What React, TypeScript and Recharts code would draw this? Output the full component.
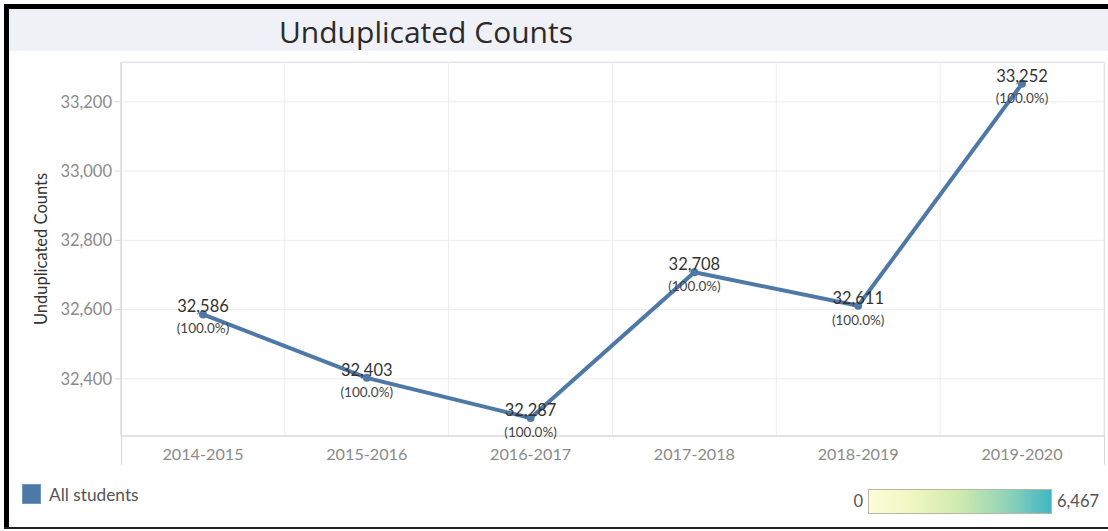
import React from 'react';
import { LineChart, Line, XAxis, YAxis, CartesianGrid, LabelList } from 'recharts';

const categories = ['2014-2015', '2015-2016', '2016-2017', '2017-2018', '2018-2019', '2019-2020'];
const counts = [32586, 32403, 32287, 32708, 32611, 33252];
const percents = ['(100.0%)', '(100.0%)', '(100.0%)', '(100.0%)', '(100.0%)', '(100.0%)'];
const yTicks = [32400, 32600, 32800, 33000, 33200];
const yDomain = [32235, 33315];
const bandEdges = [0, 1, 2, 3, 4, 5, 6];

const data = categories.map((c, i) => ({ year: c, value: counts[i], pct: percents[i] }));

const FONT = 'Lato, "Open Sans", sans-serif';
const LINE = '#4E79A7';

const fmt = (v: number) => v.toLocaleString('en-US');

const ValueLabel = (props: any) => {
  const { x, y, value, index } = props;
  return (
    <g>
      <text x={x} y={y - 2} textAnchor="middle" fontSize={16.5} fill="#333" fontFamily={FONT}>
        {fmt(value)}
      </text>
      <text x={x} y={y + 19} textAnchor="middle" fontSize={13.5} fill="#444" fontFamily={FONT}>
        {percents[index]}
      </text>
    </g>
  );
};

const EmptyTick = () => <g />;

export default function App() {
  return (
    <div style={{ position: 'absolute', left: 0, top: 0, width: 1108, height: 531, background: '#fff', overflow: 'hidden', fontFamily: FONT }}>
      {/* black frame */}
      <div style={{ position: 'absolute', left: 4, top: 4, width: 1104, height: 5, background: '#000' }} />
      <div style={{ position: 'absolute', left: 4, top: 4, width: 5, height: 525, background: '#000' }} />
      <div style={{ position: 'absolute', left: 4, top: 527, width: 1104, height: 2, background: '#222' }} />
      {/* title band */}
      <div style={{ position: 'absolute', left: 9, top: 9, width: 1099, height: 42, background: '#F0F1F6' }} />
      <div style={{ position: 'absolute', left: 0, top: 13, width: 852, textAlign: 'center', fontFamily: '"Open Sans", sans-serif', fontSize: 30, fontWeight: 500, color: '#2b2b2b', lineHeight: '38px' }}>
        Unduplicated Counts
      </div>
      {/* plot frame */}
      <div style={{ position: 'absolute', left: 121, top: 62, width: 984, height: 1, background: '#dcdcdc' }} />
      <div style={{ position: 'absolute', left: 121, top: 62, width: 1, height: 403, background: '#d6d6d6' }} />
      <div style={{ position: 'absolute', left: 1104, top: 62, width: 1, height: 403, background: '#d6d6d6' }} />

      <div style={{ position: 'absolute', left: 0, top: 0 }}>
        <LineChart width={1108} height={531} data={data} margin={{ top: 62, right: 4, bottom: 65, left: 0 }}>
          <CartesianGrid xAxisId="grid" stroke="#ececec" strokeWidth={1} />
          <XAxis
            xAxisId="grid"
            type="number"
            dataKey="gridX"
            domain={[0, 6]}
            ticks={bandEdges}
            height={0}
            axisLine={false}
            tick={EmptyTick}
            tickSize={8}
            tickLine={{ stroke: '#ececec' }}
            allowDataOverflow
          />
          <XAxis
            dataKey="year"
            padding={{ left: 82, right: 82 }}
            height={30}
            axisLine={{ stroke: '#cfcfcf' }}
            tickLine={false}
            tickMargin={6}
            tick={{ fill: '#8a8a8a', fontSize: 16.2, fontFamily: FONT }}
            interval={0}
          />
          <YAxis
            domain={yDomain}
            ticks={yTicks}
            type="number"
            width={121}
            axisLine={{ stroke: '#d6d6d6' }}
            tickLine={{ stroke: '#d6d6d6' }}
            tickSize={6}
            tickMargin={3}
            tickFormatter={fmt}
            tick={{ fill: '#8a8a8a', fontSize: 16.5, fontFamily: FONT }}
            allowDataOverflow
            label={{ value: 'Unduplicated Counts', angle: -90, position: 'center', dx: -19, fill: '#333', fontSize: 16.5, fontFamily: FONT }}
          />
          <Line
            dataKey="value"
            stroke={LINE}
            strokeWidth={4}
            dot={{ r: 4, fill: LINE, stroke: LINE, strokeWidth: 0 }}
            activeDot={false}
            isAnimationActive={false}
          >
            <LabelList dataKey="value" content={ValueLabel} />
          </Line>
        </LineChart>
      </div>

      {/* legend */}
      <div style={{ position: 'absolute', left: 22, top: 484, width: 19, height: 20, background: LINE, border: '1px solid #6f94bd', boxSizing: 'border-box' }} />
      <div style={{ position: 'absolute', left: 49, top: 484, fontSize: 17.3, color: '#555', lineHeight: '22px' }}>All students</div>

      {/* color legend */}
      <div style={{ position: 'absolute', left: 800, top: 490, width: 63, textAlign: 'right', fontSize: 16.5, color: '#555', lineHeight: '22px' }}>0</div>
      <div style={{ position: 'absolute', left: 868, top: 489, width: 184, height: 25, boxSizing: 'border-box', border: '1px solid #b8b8a8', background: 'linear-gradient(to right, #fcfdd9 0%, #eef6bf 25%, #cfeaae 50%, #93d4b8 75%, #41b6c4 100%)' }} />
      <div style={{ position: 'absolute', left: 1057, top: 490, fontSize: 16.5, color: '#555', lineHeight: '22px' }}>6,467</div>
    </div>
  );
}
